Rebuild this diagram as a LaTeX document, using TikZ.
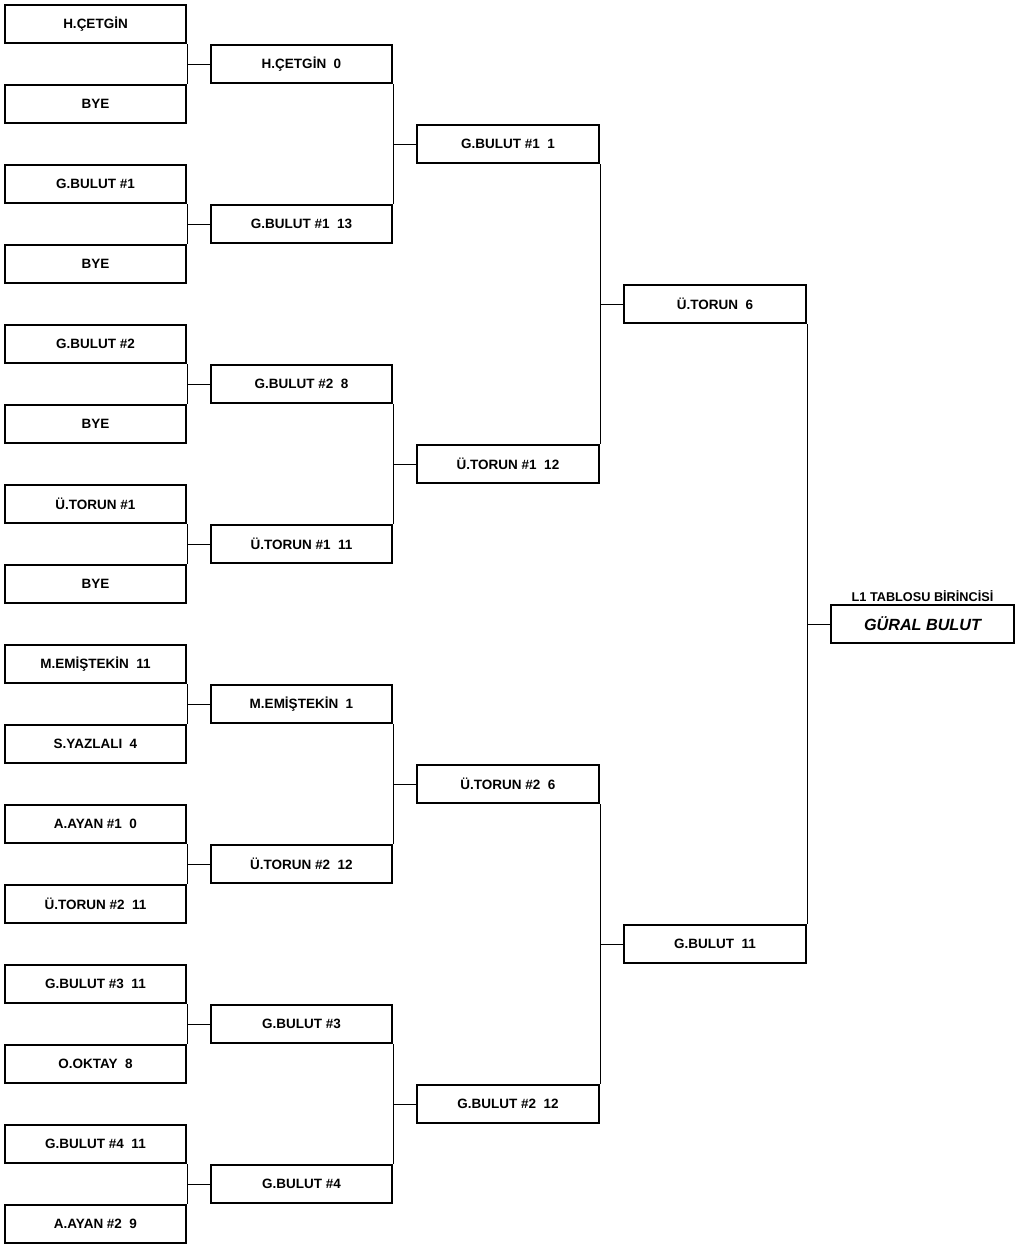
\documentclass[tikz,border=0pt]{standalone}
\usepackage{fontspec}
\setmainfont{Liberation Sans}
\usetikzlibrary{positioning}
\tikzset{
  entry/.style={draw, line width=2pt, minimum width=181pt, minimum height=38pt, inner sep=0pt, font=\bfseries\fontsize{13.5}{15}\selectfont},
  link/.style={line width=1pt}
}

\begin{document}
\begin{tikzpicture}[x=1pt, y=-1pt]
\useasboundingbox (0,0) rectangle (1018,1248);
\foreach \t [count=\i from 0] in {H.ÇETGİN, BYE, G.BULUT \#1, BYE, G.BULUT \#2, BYE, Ü.TORUN \#1, BYE, M.EMİŞTEKİN~~11, S.YAZLALI~~4, A.AYAN \#1~~0, Ü.TORUN \#2~~11, G.BULUT \#3~~11, O.OKTAY~~8, G.BULUT \#4~~11, A.AYAN \#2~~9}
  \node[entry] (a\i) at (95.5, 24+80*\i) {\t};
\foreach \t [count=\i from 0] in {H.ÇETGİN~~0, G.BULUT \#1~~13, G.BULUT \#2~~8, Ü.TORUN \#1~~11, M.EMİŞTEKİN~~1, Ü.TORUN \#2~~12, G.BULUT \#3, G.BULUT \#4}
  \node[entry] (b\i) at (301.5, 64+160*\i) {\t};
\foreach \t [count=\i from 0] in {G.BULUT \#1~~1, Ü.TORUN \#1~~12, Ü.TORUN \#2~~6, G.BULUT \#2~~12}
  \node[entry, minimum width=182pt] (c\i) at (508, 144+320*\i) {\t};
\foreach \t [count=\i from 0] in {Ü.TORUN~~6, G.BULUT~~11}
  \node[entry, minimum width=182pt] (d\i) at (715, 304+640*\i) {\t};
\node[entry, minimum width=183pt, font=\bfseries\itshape\fontsize{16.2}{18}\selectfont] (champ) at (922.5, 624) {GÜRAL BULUT};
\node[above=1pt of champ, inner sep=1pt, font=\bfseries\fontsize{12.7}{14}\selectfont] (title) {L1 TABLOSU BİRİNCİSİ};

\foreach \i in {0,...,7} {
  \pgfmathtruncatemacro\up{2*\i}
  \pgfmathtruncatemacro\dn{2*\i+1}
  \draw[link] (a\up.south east) -- (a\dn.north east);
  \draw[link] (b\i.west) -- (b\i.west -| a\up.east);
}
\foreach \i in {0,...,3} {
  \pgfmathtruncatemacro\up{2*\i}
  \pgfmathtruncatemacro\dn{2*\i+1}
  \draw[link] (b\up.south east) -- (b\dn.north east);
  \draw[link] (c\i.west) -- (c\i.west -| b\up.east);
}
\foreach \i in {0,1} {
  \pgfmathtruncatemacro\up{2*\i}
  \pgfmathtruncatemacro\dn{2*\i+1}
  \draw[link] (c\up.south east) -- (c\dn.north east);
  \draw[link] (d\i.west) -- (d\i.west -| c\up.east);
}
\draw[link] (d0.south east) -- (d1.north east);
\draw[link] (champ.west) -- (champ.west -| d0.east);
\end{tikzpicture}
\end{document}
